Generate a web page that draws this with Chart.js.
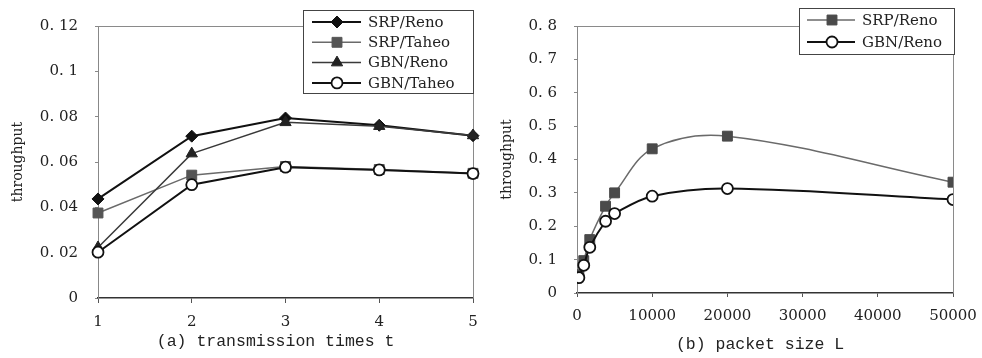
<!DOCTYPE html>
<html><head><meta charset="utf-8">
<script src="https://cdn.jsdelivr.net/npm/chart.js@4.4.0/dist/chart.umd.min.js"></script>
<style>
html,body{margin:0;padding:0;background:#fff;}
#wrap{position:relative;width:982px;height:358px;overflow:hidden;background:#fff}
#ca{position:absolute;left:0;top:0}
#cb{position:absolute;left:490px;top:0}
</style></head><body>
<div id="wrap"><canvas id="ca" width="490" height="358"></canvas><canvas id="cb" width="492" height="358"></canvas></div>
<script>
// ---------- data: chart (a) ----------
const transmissionTimes = ['1', '2', '3', '4', '5'];
const srpRenoA   = [0.0437, 0.0714, 0.0794, 0.0762, 0.0716];
const srpTaheoA  = [0.0375, 0.0542, 0.0580, 0.0567, 0.0550];
const gbnRenoA   = [0.0223, 0.0637, 0.0775, 0.0758, 0.0717];
const gbnTaheoA  = [0.0202, 0.0500, 0.0577, 0.0565, 0.0549];
const yTickLabelsA = ['0', '0. 02', '0. 04', '0. 06', '0. 08', '0. 1', '0. 12'];

// ---------- data: chart (b) ----------
const packetSizes = [250, 900, 1700, 3800, 5000, 10000, 20000, 50000];
const srpRenoB    = [0.055, 0.097, 0.160, 0.260, 0.300, 0.432, 0.470, 0.332];
const gbnRenoB    = [0.046, 0.083, 0.137, 0.215, 0.238, 0.290, 0.313, 0.280];
const yTickLabelsB = ['0', '0. 1', '0. 2', '0. 3', '0. 4', '0. 5', '0. 6', '0. 7', '0. 8'];
const xTickLabelsB = ['0', '10000', '20000', '30000', '40000', '50000'];

const tickFont = {family: 'DejaVu Serif', size: 15};
const txt = '#222';

function drawMarker(ctx, style, r, x, y, bg, bc, bw) {
  ctx.save();
  ctx.beginPath();
  if (style === 'rectRot') {
    ctx.moveTo(x - r, y); ctx.lineTo(x, y - r); ctx.lineTo(x + r, y); ctx.lineTo(x, y + r); ctx.closePath();
  } else if (style === 'rect') {
    const s = Math.SQRT1_2 * r; ctx.rect(x - s, y - s, 2 * s, 2 * s);
  } else if (style === 'triangle') {
    let a = 0;
    ctx.moveTo(x + Math.sin(a) * r, y - Math.cos(a) * r);
    a += 2 * Math.PI / 3; ctx.lineTo(x + Math.sin(a) * r, y - Math.cos(a) * r);
    a += 2 * Math.PI / 3; ctx.lineTo(x + Math.sin(a) * r, y - Math.cos(a) * r);
    ctx.closePath();
  } else {
    ctx.arc(x, y, r, 0, Math.PI * 2);
  }
  ctx.fillStyle = bg; ctx.fill();
  if (bw > 0) { ctx.lineWidth = bw; ctx.strokeStyle = bc; ctx.stroke(); }
  ctx.restore();
}

const boxLegend = {
  id: 'boxLegend',
  afterDraw(chart, args, o) {
    const ctx = chart.ctx;
    ctx.save();
    ctx.fillStyle = '#fff';
    ctx.fillRect(o.x1, o.y1, o.x2 - o.x1, o.y2 - o.y1);
    ctx.strokeStyle = '#444'; ctx.lineWidth = 1;
    ctx.strokeRect(o.x1 + 0.5, o.y1 + 0.5, o.x2 - o.x1, o.y2 - o.y1);
    chart.data.datasets.forEach((ds, i) => {
      const y = o.y0 + i * o.dy;
      ctx.beginPath(); ctx.moveTo(o.lx1, y); ctx.lineTo(o.lx2, y);
      ctx.strokeStyle = ds.borderColor; ctx.lineWidth = ds.borderWidth; ctx.stroke();
      drawMarker(ctx, ds.pointStyle, ds.pointRadius, o.mx, y, ds.pointBackgroundColor, ds.pointBorderColor, ds.pointBorderWidth);
      ctx.fillStyle = txt; ctx.font = '15px "DejaVu Serif"';
      ctx.textBaseline = 'middle'; ctx.textAlign = 'left';
      ctx.fillText(ds.label, o.tx, y + 1);
    });
    ctx.restore();
  }
};

const frame = {
  id: 'frame',
  beforeDatasetsDraw(chart) {
    const {ctx, chartArea: a} = chart;
    ctx.save();
    ctx.strokeStyle = '#8a8a8a'; ctx.lineWidth = 1;
    ctx.beginPath();
    ctx.moveTo(a.left, a.top + 0.5); ctx.lineTo(a.right + 0.5, a.top + 0.5); ctx.lineTo(a.right + 0.5, a.bottom);
    ctx.stroke();
    ctx.restore();
  }
};

function ds(label, data, style, radius, line, lw, bg, bc, bw, order, tension) {
  return {label, data, pointStyle: style, pointRadius: radius, pointHoverRadius: radius,
    borderColor: line, borderWidth: lw, pointBackgroundColor: bg, pointBorderColor: bc,
    pointBorderWidth: bw, order, tension: tension || 0, fill: false};
}

function fitX(h) {
  return s => { s.height = h; s.paddingLeft = 0; s.paddingRight = 0; };
}

new Chart(document.getElementById('ca'), {
  type: 'line',
  data: {
    labels: transmissionTimes,
    datasets: [
      ds('SRP/Reno', srpRenoA, 'rectRot', 6, '#111', 2, '#111', '#111', 1, 4),
      ds('SRP/Taheo', srpTaheoA, 'rect', 7, '#6a6a6a', 1.5, '#555', '#555', 1, 3),
      ds('GBN/Reno', gbnRenoA, 'triangle', 6.5, '#3a3a3a', 1.5, '#222', '#222', 1, 2),
      ds('GBN/Taheo', gbnTaheoA, 'circle', 5.5, '#111', 2, '#fff', '#111', 1.8, 1)
    ]
  },
  options: {
    responsive: false, animation: false, devicePixelRatio: 1,
    layout: {padding: {left: 0, top: 13, right: 17, bottom: 0}},
    plugins: {legend: {display: false}, tooltip: {enabled: false},
      boxLegend: {x1: 303, y1: 10, x2: 473, y2: 93, y0: 22, dy: 20.3, lx1: 312, lx2: 361, mx: 337, tx: 368}},
    scales: {
      x: {type: 'category', offset: false,
        grid: {display: true, drawOnChartArea: false, drawTicks: true, tickLength: 5, color: '#555'},
        border: {display: true, color: '#333', width: 1.5},
        ticks: {font: tickFont, color: txt, padding: 10, maxRotation: 0},
        title: {display: true, text: '(a) transmission times t  ', font: {family: 'Liberation Mono', size: 16.5}, color: txt, padding: {top: 0, bottom: 6}},
        afterFit: fitX(60)
      },
      y: {min: 0, max: 0.12,
        grid: {display: true, drawOnChartArea: false, drawTicks: true, tickLength: 3, color: '#888'},
        border: {display: true, color: '#888', width: 1},
        ticks: {stepSize: 0.02, font: tickFont, color: txt, padding: 17, callback: (v, i) => yTickLabelsA[i]},
        title: {display: true, text: 'throughput', font: {family: 'DejaVu Serif', size: 14}, color: txt, padding: {top: 10, bottom: 0}},
        afterFit: s => { s.width = 98; }
      }
    }
  },
  plugins: [frame, boxLegend]
});

new Chart(document.getElementById('cb'), {
  type: 'line',
  data: {
    datasets: [
      ds('SRP/Reno', srpRenoB.map((v, i) => ({x: packetSizes[i], y: v})), 'rect', 7, '#6a6a6a', 1.5, '#4a4a4a', '#4a4a4a', 1, 2, 0.35),
      ds('GBN/Reno', gbnRenoB.map((v, i) => ({x: packetSizes[i], y: v})), 'circle', 5.5, '#111', 2, '#fff', '#111', 1.8, 1, 0.35)
    ]
  },
  options: {
    responsive: false, animation: false, devicePixelRatio: 1,
    layout: {padding: {left: 0, top: 13, right: 29, bottom: 0}},
    plugins: {legend: {display: false}, tooltip: {enabled: false},
      boxLegend: {x1: 309, y1: 8, x2: 464, y2: 54, y0: 20, dy: 22, lx1: 317, lx2: 365, mx: 342, tx: 372}},
    scales: {
      x: {type: 'linear', min: 0, max: 50000,
        grid: {display: true, drawOnChartArea: false, drawTicks: true, tickLength: 4, color: '#555'},
        border: {display: true, color: '#333', width: 1.5},
        ticks: {stepSize: 10000, font: tickFont, color: txt, padding: 10, maxRotation: 0, callback: (v, i) => xTickLabelsB[i]},
        title: {display: true, text: '(b) packet size L ', font: {family: 'Liberation Mono', size: 16.5}, color: txt, padding: {top: 0, bottom: 3}},
        afterFit: fitX(65)
      },
      y: {min: 0, max: 0.8,
        grid: {display: true, drawOnChartArea: false, drawTicks: true, tickLength: 3, color: '#888'},
        border: {display: true, color: '#888', width: 1},
        ticks: {stepSize: 0.1, font: tickFont, color: txt, padding: 17, callback: (v, i) => yTickLabelsB[i]},
        title: {display: true, text: 'throughput', font: {family: 'DejaVu Serif', size: 14}, color: txt, padding: {top: 9, bottom: 0}},
        afterFit: s => { s.width = 87; }
      }
    }
  },
  plugins: [frame, boxLegend]
});
</script>
</body></html>
